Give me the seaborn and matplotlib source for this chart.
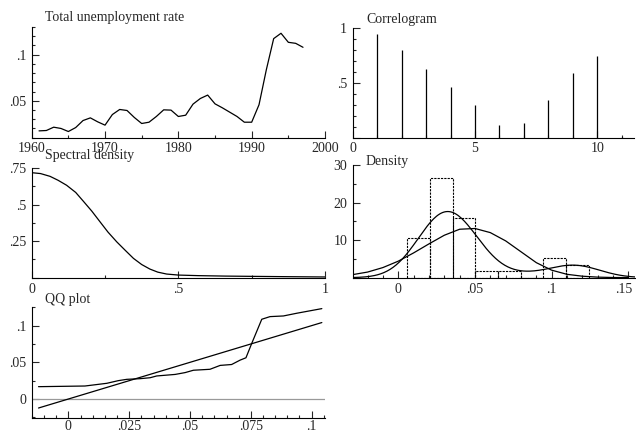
import numpy as np
import pandas as pd
import seaborn as sns
import matplotlib
matplotlib.use('Agg')
import matplotlib.pyplot as plt
import matplotlib.transforms as mtransforms
from matplotlib.ticker import MultipleLocator, FuncFormatter

# unemployment rate
years = list(range(1961, 1998))
rate = [0.0174, 0.0178, 0.0214, 0.0200, 0.0167, 0.0210, 0.0286, 0.0315, 0.0272, 0.0236,
        0.0351, 0.0406, 0.0395, 0.0319, 0.0254, 0.0268, 0.0330, 0.0402, 0.0399, 0.0330,
        0.0344, 0.0464, 0.0525, 0.0562, 0.0467, 0.0424, 0.0377, 0.0330, 0.0268, 0.0268,
        0.0457, 0.0837, 0.1174, 0.1232, 0.1134, 0.1123, 0.1080]

# correlogram
lags = list(range(1, 12))
acf = [0.948, 0.80, 0.626, 0.463, 0.294, 0.12, 0.135, 0.347, 0.589, 0.745, 0.01]

# spectral density
freq = [0.0, 0.03, 0.0625, 0.09, 0.119, 0.15, 0.176, 0.205, 0.233, 0.26, 0.29,
        0.32, 0.347, 0.375, 0.403, 0.43, 0.46, 0.5, 0.57, 0.66, 0.76, 0.87, 1.0]
spec = [0.718, 0.712, 0.693, 0.666, 0.632, 0.583, 0.523, 0.455, 0.382, 0.312, 0.245,
        0.185, 0.132, 0.090, 0.059, 0.038, 0.025, 0.018, 0.014, 0.011, 0.009, 0.007, 0.005]

# histogram (density scale)
bin_edges = [0.00587, 0.0206, 0.0355, 0.0502, 0.065, 0.0798, 0.0945, 0.1093, 0.124]
hist_h = [10.45, 26.5, 15.9, 1.7, 1.7, 0.0, 5.3, 3.4]

# normal density curve
norm_x = [-0.03, -0.02, -0.01, 0.0, 0.01, 0.02, 0.03, 0.04, 0.05, 0.06, 0.07, 0.08,
          0.09, 0.10, 0.11, 0.12, 0.13, 0.14, 0.15]
norm_y = [0.8, 1.5, 2.7, 4.4, 6.6, 9.0, 11.3, 12.9, 13.1, 12.0, 9.8, 6.9,
          4.0, 2.0, 0.9, 0.4, 0.15, 0.05, 0.02]

# QQ plot
qq_x = [-0.0123, 0.0068, 0.0158, 0.0205, 0.024, 0.0295, 0.0336, 0.0363, 0.0439, 0.048,
        0.0514, 0.0582, 0.0624, 0.0671, 0.0706, 0.073, 0.0754, 0.0795, 0.0829, 0.0884,
        0.0939, 0.1042]
qq_y = [0.0168, 0.0177, 0.0214, 0.025, 0.0268, 0.0277, 0.029, 0.0314, 0.0335, 0.036,
        0.0392, 0.0405, 0.0458, 0.047, 0.053, 0.0562, 0.076, 0.1087, 0.1123, 0.1132,
        0.1169, 0.1232]
ref_x = [-0.0123, 0.1042]

sns.set_style('ticks')
plt.rcParams['font.family'] = ['Liberation Serif', 'DejaVu Serif']
plt.rcParams['font.size'] = 10

W, H = 636, 434
fig = plt.figure(figsize=(W / 100, H / 100), dpi=100)


def box(l, r, b, t):
    return [l / W, 1 - b / H, (r - l) / W, (b - t) / H]


def fmt(v, pos):
    s = '%g' % round(v, 6)
    if s.startswith('0.'):
        s = s[1:]
    elif s.startswith('-0.'):
        s = '-' + s[2:]
    return s


def fmt_no0(v, pos):
    if abs(v) < 1e-9:
        return ''
    return fmt(v, pos)


def style(ax, xmaj, xmin, ymaj, ymin, hide_y0=False, xpad=3.5):
    sns.despine(ax=ax)
    for sp in ['left', 'bottom']:
        ax.spines[sp].set_linewidth(0.8)
        ax.spines[sp].set_color('black')
    ax.xaxis.set_major_locator(MultipleLocator(xmaj))
    ax.xaxis.set_minor_locator(MultipleLocator(xmin))
    ax.yaxis.set_major_locator(MultipleLocator(ymaj))
    ax.yaxis.set_minor_locator(MultipleLocator(ymin))
    ax.xaxis.set_major_formatter(FuncFormatter(fmt))
    ax.yaxis.set_major_formatter(FuncFormatter(fmt_no0 if hide_y0 else fmt))
    ax.tick_params(which='major', direction='in', length=5, width=0.8, labelsize=10)
    ax.tick_params(which='minor', direction='in', length=2.5, width=0.8)
    ax.tick_params(axis='y', pad=4)
    ax.tick_params(axis='x', pad=xpad)
    ax.set_xlabel('')
    ax.set_ylabel('')
    ax.set_facecolor('white')


# top left: series
ax1 = fig.add_axes(box(31.7, 325, 137.7, 27))
sns.lineplot(x=years, y=rate, ax=ax1, color='black', lw=0.9)
ax1.set_xlim(1960, 2000)
ax1.set_ylim(0.01, 0.13)
style(ax1, 10, 5, 0.05, 0.01, xpad=3)

# top right: correlogram
ax2 = fig.add_axes(box(352.7, 634, 137.7, 28))
ax2.vlines(lags, 0, acf, color='black', lw=0.9)
ax2.set_xlim(0, 11.5)
ax2.set_ylim(0, 1)
style(ax2, 5, 1, 0.5, 0.1, hide_y0=True, xpad=3)

# middle left: spectral density
ax3 = fig.add_axes(box(31.7, 325, 277.7, 168))
sns.lineplot(x=freq, y=spec, ax=ax3, color='black', lw=0.9)
ax3.set_xlim(0, 1)
ax3.set_ylim(0, 0.75)
style(ax3, 0.5, 0.25, 0.25, 0.125, hide_y0=True)

# middle right: density
ax4 = fig.add_axes(box(352.7, 635, 277.7, 165))
widths = np.diff(bin_edges)
ax4.bar(bin_edges[:-1], hist_h, width=widths, align='edge', fill=False,
        edgecolor='black', linestyle=(0, (2, 1)), lw=0.8)
sns.kdeplot(x=rate, bw_adjust=1.06, cut=3, ax=ax4, color='black', lw=0.9)
sns.lineplot(x=norm_x, y=norm_y, ax=ax4, color='black', lw=0.9)
ax4.set_xlim(-0.0297, 0.1543)
ax4.set_ylim(0, 30)
style(ax4, 0.05, 0.01, 10, 5, hide_y0=True)

# bottom left: QQ plot
ax5 = fig.add_axes(box(31.7, 325, 417.7, 307.3))
ax5.axhline(0, color='#999999', lw=0.9)
sns.lineplot(x=ref_x, y=ref_x, ax=ax5, color='black', lw=0.9)
sns.lineplot(x=qq_x, y=qq_y, ax=ax5, color='black', lw=0.9, sort=False)
ax5.set_xlim(-0.0151, 0.1055)
ax5.set_ylim(-0.0255, 0.125)
style(ax5, 0.025, 0.005, 0.05, 0.025, xpad=2)

fig.canvas.draw()
# keep the last density label inside the figure
last = [t for t in ax4.get_xticklabels() if t.get_text() == '.15']
for t in last:
    t.set_transform(t.get_transform() + mtransforms.ScaledTranslation(-5 / 100, 0, fig.dpi_scale_trans))

titles = [('Total unemployment rate', 45, 18), ('Correlogram', 366, 20),
          ('Spectral density', 45, 155), ('Density', 366, 161), ('QQ plot', 45, 299)]
for txt, px, py in titles:
    fig.text(px / W, 1 - py / H, txt, ha='left', va='center', fontsize=10)

fig.savefig('out.png', dpi=100)
